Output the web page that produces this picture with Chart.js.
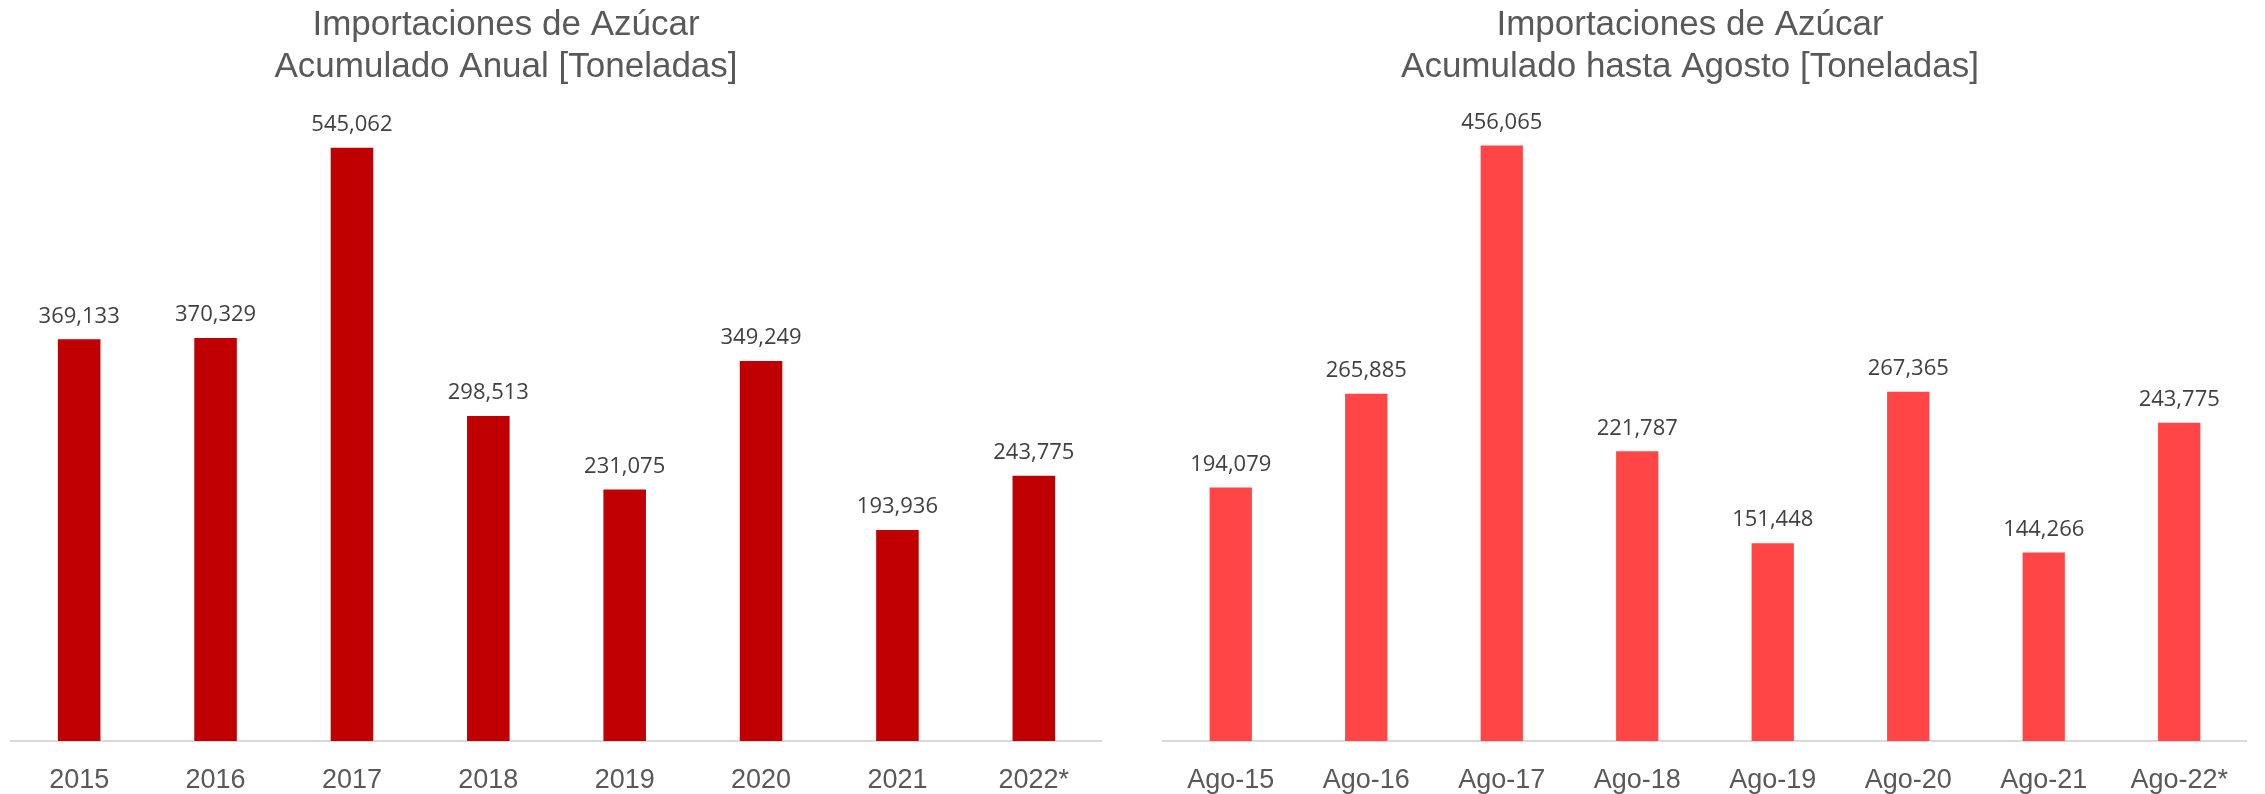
<!DOCTYPE html>
<html>
<head>
<meta charset="utf-8">
<script src="https://cdn.jsdelivr.net/npm/chart.js@4.4.0/dist/chart.umd.min.js"></script>
<style>
  html, body { margin: 0; padding: 0; background: #ffffff; overflow: hidden; }
  body { width: 2265px; height: 794px; position: relative; }
  canvas { position: absolute; top: 0; }
  #annualChart { left: -90px; }
  #augustChart { left: 1126px; }
</style>
</head>
<body>
<canvas id="annualChart" width="1192" height="794"></canvas>
<canvas id="augustChart" width="1128" height="794"></canvas>
<script>
// Importaciones de azúcar (toneladas)
const annualLabels = ['2015', '2016', '2017', '2018', '2019', '2020', '2021', '2022*'];
const annualValues = [369133, 370329, 545062, 298513, 231075, 349249, 193936, 243775];

const augustLabels = ['Ago-15', 'Ago-16', 'Ago-17', 'Ago-18', 'Ago-19', 'Ago-20', 'Ago-21', 'Ago-22*'];
const augustValues = [194079, 265885, 456065, 221787, 151448, 267365, 144266, 243775];

const annualTitle = ['Importaciones de Azúcar', 'Acumulado Anual [Toneladas]'];
const augustTitle = ['Importaciones de Azúcar', 'Acumulado hasta Agosto [Toneladas]'];

// values above each bar
const barValueLabels = {
    id: 'barValueLabels',
    afterDatasetsDraw(chart) {
        const ctx = chart.ctx;
        ctx.save();
        ctx.font = '22px "Open Sans"';
        ctx.fillStyle = '#404040';
        ctx.textAlign = 'center';
        ctx.textBaseline = 'middle';
        chart.getDatasetMeta(0).data.forEach((bar, i) => {
            const v = chart.data.datasets[0].data[i];
            ctx.fillText(v.toLocaleString('en-US'), bar.x, bar.y - 23);
        });
        ctx.restore();
    }
};

function renderImportChart(canvasId, labels, values, color, yMax, titleLines, leftSpace) {
    const ctx = document.getElementById(canvasId).getContext('2d');
    return new Chart(ctx, {
        type: 'bar',
        data: {
            labels: labels,
            datasets: [{
                data: values,
                backgroundColor: color,
                borderWidth: 0,
                categoryPercentage: 1,
                barPercentage: 0.312
            }]
        },
        options: {
            responsive: false,
            animation: false,
            layout: { padding: 0 },
            plugins: {
                legend: { display: false },
                tooltip: { enabled: false },
                title: {
                    display: true,
                    text: titleLines,
                    color: '#595959',
                    font: { family: '"Liberation Sans", Arial, sans-serif', size: 35, weight: 'normal', lineHeight: 1.2 },
                    padding: { top: 4, bottom: 0 }
                }
            },
            scales: {
                x: {
                    grid: { display: false, drawTicks: false },
                    border: { display: true, color: '#D9D9D9', width: 2 },
                    ticks: {
                        color: '#595959',
                        padding: 26,
                        font: { family: '"Liberation Sans", Arial, sans-serif', size: 27, lineHeight: 1.0 }
                    },
                    afterFit: (scale) => { scale.height = 53; }
                },
                y: {
                    // empty axis, only keeps the plot away from the left edge
                    display: true,
                    min: 0,
                    max: yMax,
                    grid: { display: false, drawTicks: false },
                    border: { display: false },
                    ticks: { display: false },
                    afterFit: (scale) => { scale.width = leftSpace; }
                }
            }
        },
        plugins: [barValueLabels]
    });
}

renderImportChart('annualChart', annualLabels, annualValues, '#C00000', 600000, annualTitle, 101);
renderImportChart('augustChart', augustLabels, augustValues, '#FF4545', 500000, augustTitle, 37);
</script>
</body>
</html>
